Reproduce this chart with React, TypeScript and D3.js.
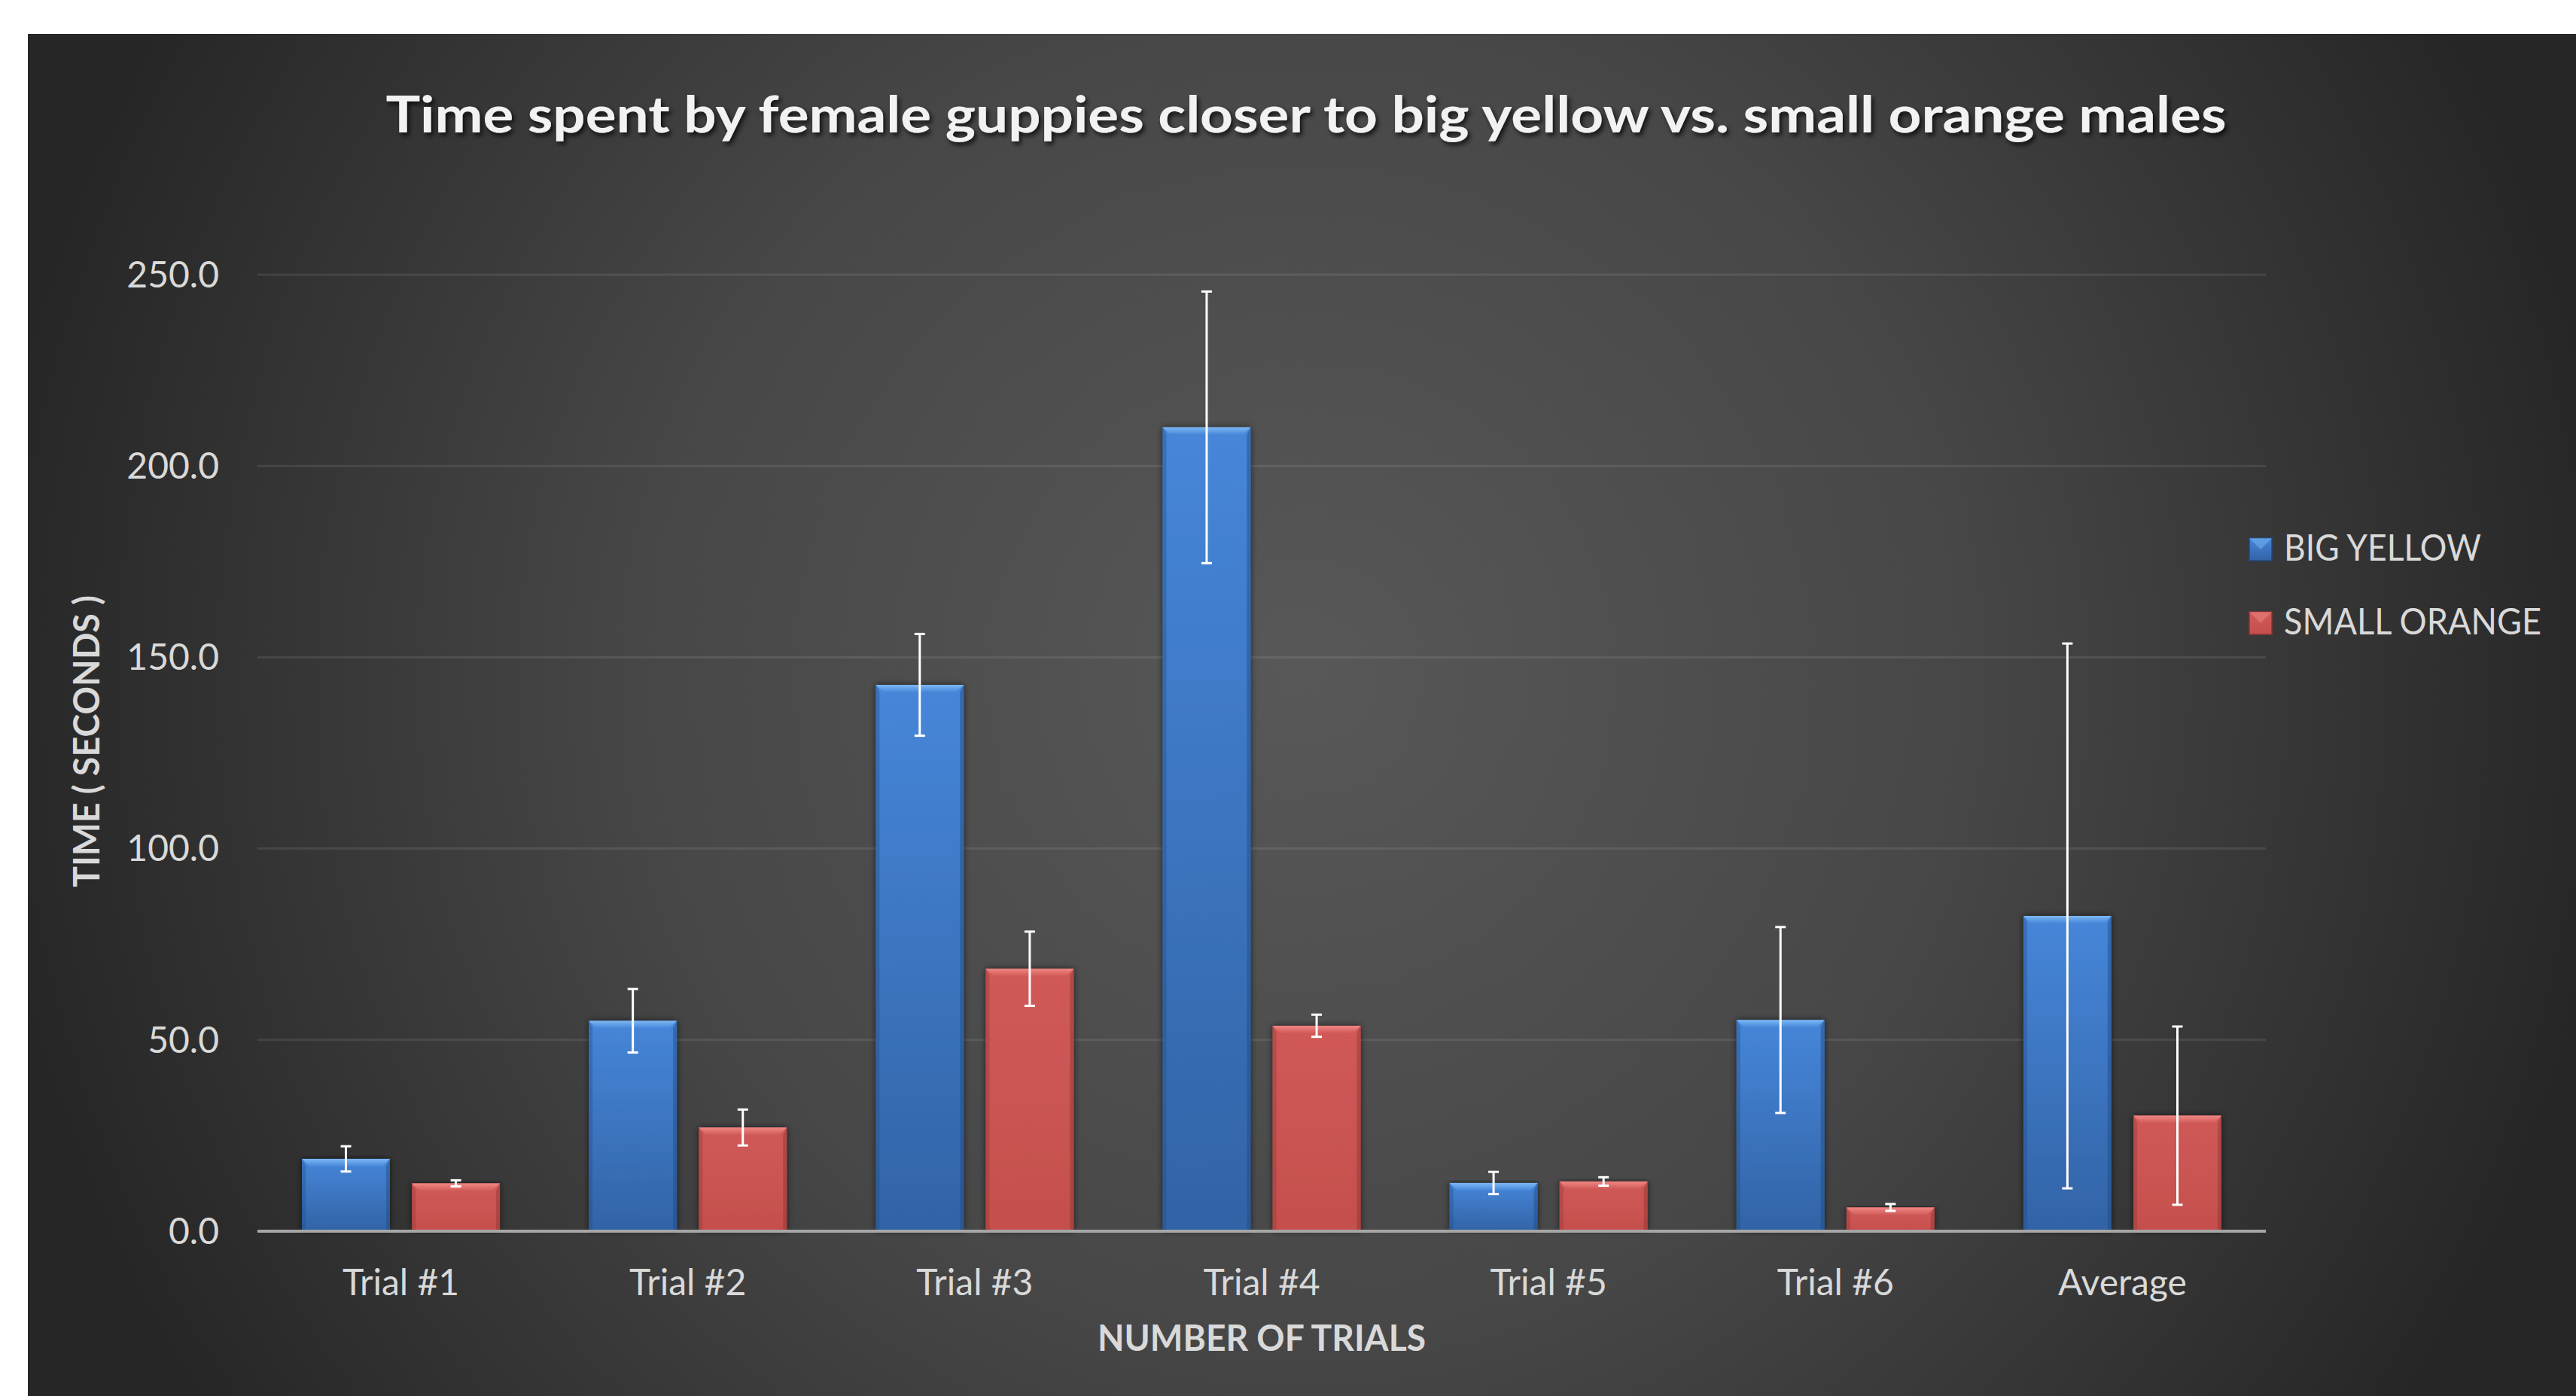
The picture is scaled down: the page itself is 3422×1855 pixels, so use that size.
import React from 'react';
import * as d3 from 'd3';

const categories = ['Trial #1', 'Trial #2', 'Trial #3', 'Trial #4', 'Trial #5', 'Trial #6', 'Average'];
const seriesNames = ['BIG YELLOW', 'SMALL ORANGE'];
const bigYellow = [18.9, 55.0, 142.8, 210.1, 12.6, 55.2, 82.4];
const bigYellowErr = [3.3, 8.3, 13.3, 35.5, 2.9, 24.3, 71.2];
const smallOrange = [12.5, 27.1, 68.6, 53.7, 13.0, 6.2, 30.2];
const smallOrangeErr = [0.8, 4.7, 9.7, 2.9, 1.1, 0.9, 23.3];
const yTicks = [0, 50, 100, 150, 200, 250];

const W = 3422;
const H = 1855;
const PLOT = { left: 342, right: 3010, top: 365, bottom: 1636 };

const seriesStyle = [
  { id: 'blue', top: '#4686d9', bottom: '#3263a6', bevel: '#7cb8f4', edge: '#1f4a80' },
  { id: 'red', top: '#d05a58', bottom: '#c44f4d', bevel: '#f08784', edge: '#8f3332' },
];

export default function App() {
  const x0 = d3.scaleBand<string>().domain(categories).range([PLOT.left, PLOT.right]).paddingInner(0).paddingOuter(0);
  const bw = x0.bandwidth();
  const x1 = d3.scaleBand<string>().domain(seriesNames).range([0.155 * bw, 0.845 * bw]).paddingInner(0.2);
  const y = d3.scaleLinear().domain([0, 250]).range([PLOT.bottom, PLOT.top]);
  const values = [bigYellow, smallOrange];
  const errs = [bigYellowErr, smallOrangeErr];
  const barW = x1.bandwidth();
  const b = 10;

  const bars: React.ReactNode[] = [];
  const errBars: React.ReactNode[] = [];
  seriesNames.forEach((s, si) => {
    const st = seriesStyle[si];
    categories.forEach((c, ci) => {
      const v = values[si][ci];
      const bx = (x0(c) as number) + (x1(s) as number);
      const by = y(v);
      const bh = y(0) - by;
      bars.push(
        <g key={`${s}-${c}`} filter="url(#barShadow)">
          <rect x={bx} y={by} width={barW} height={bh} fill={`url(#grad-${st.id})`} />
          <polygon
            points={`${bx},${by} ${bx + barW},${by} ${bx + barW - b},${by + b} ${bx + b},${by + b}`}
            fill={`url(#bevel-${st.id})`}
          />
          <polygon
            points={`${bx},${by} ${bx + b * 0.5},${by + b} ${bx + b * 0.5},${by + bh} ${bx},${by + bh}`}
            fill={st.edge}
            opacity={0.35}
          />
          <polygon
            points={`${bx + barW},${by} ${bx + barW - b * 0.5},${by + b} ${bx + barW - b * 0.5},${by + bh} ${bx + barW},${by + bh}`}
            fill={st.edge}
            opacity={0.45}
          />
        </g>
      );
      const e = errs[si][ci];
      const cx = bx + barW / 2;
      const yt = y(v + e);
      const yb = y(v - e);
      errBars.push(
        <g key={`e-${s}-${c}`} stroke="#ffffff" strokeWidth={3}>
          <line x1={cx} x2={cx} y1={yt} y2={yb} />
          <line x1={cx - 7} x2={cx + 7} y1={yt} y2={yt} />
          <line x1={cx - 7} x2={cx + 7} y1={yb} y2={yb} />
        </g>
      );
    });
  });

  return (
    <svg
      width={W}
      height={H}
      style={{ position: 'absolute', left: 0, top: 0, display: 'block' }}
      fontFamily="Lato, 'Open Sans', sans-serif"
    >
      <defs>
        <radialGradient id="bg" gradientUnits="userSpaceOnUse" cx={1730} cy={900} r={1760}>
          <stop offset="0" stopColor="#585858" />
          <stop offset="0.5" stopColor="#474747" />
          <stop offset="1" stopColor="#262626" />
        </radialGradient>
        {seriesStyle.map((st) => (
          <linearGradient key={st.id} id={`grad-${st.id}`} x1="0" y1="0" x2="0" y2="1">
            <stop offset="0" stopColor={st.top} />
            <stop offset="1" stopColor={st.bottom} />
          </linearGradient>
        ))}
        {seriesStyle.map((st) => (
          <linearGradient key={`bv-${st.id}`} id={`bevel-${st.id}`} x1="0" y1="0" x2="0" y2="1">
            <stop offset="0" stopColor={st.bevel} />
            <stop offset="1" stopColor={st.top} />
          </linearGradient>
        ))}
        <filter id="barShadow" x="-20%" y="-5%" width="140%" height="110%">
          <feDropShadow dx="0" dy="0" stdDeviation="4" floodColor="#000" floodOpacity="0.6" />
        </filter>
        <filter id="titleShadow" x="-5%" y="-30%" width="110%" height="160%">
          <feDropShadow dx="3" dy="4" stdDeviation="3" floodColor="#000" floodOpacity="0.75" />
        </filter>
      </defs>

      <rect x={0} y={0} width={W} height={H} fill="#ffffff" />
      <rect x={37} y={45} width={W - 37} height={H - 45} fill="url(#bg)" />

      <text
        x={1735}
        y={176}
        textAnchor="middle"
        fontSize={67}
        fontWeight={700}
        fill="#f2f2f2"
        filter="url(#titleShadow)"
        textLength={2445}
        lengthAdjust="spacingAndGlyphs"
      >
        Time spent by female guppies closer to big yellow vs. small orange males
      </text>

      {yTicks.map((t) => (
        <g key={t}>
          {t > 0 && (
            <line x1={PLOT.left} x2={PLOT.right} y1={y(t)} y2={y(t)} stroke="#ffffff" strokeOpacity={0.09} strokeWidth={3} />
          )}
          <text x={291} y={y(t)} dy="0.35em" textAnchor="end" fontSize={48} fill="#d9d9d9">
            {d3.format('.1f')(t)}
          </text>
        </g>
      ))}

      {bars}
      <line x1={PLOT.left} x2={PLOT.right} y1={PLOT.bottom} y2={PLOT.bottom} stroke="#a6a6a6" strokeWidth={4} />
      {errBars}

      {categories.map((c) => (
        <text key={c} x={(x0(c) as number) + bw / 2} y={1721} textAnchor="middle" fontSize={48} fill="#d9d9d9">
          {c}
        </text>
      ))}

      <text
        x={(PLOT.left + PLOT.right) / 2}
        y={1795}
        textAnchor="middle"
        fontSize={48}
        fontWeight={700}
        fill="#d9d9d9"
        textLength={436}
        lengthAdjust="spacingAndGlyphs"
      >
        NUMBER OF TRIALS
      </text>

      <text
        transform="translate(132,985) rotate(-90)"
        textAnchor="middle"
        fontSize={48}
        fontWeight={700}
        fill="#d9d9d9"
        textLength={388}
        lengthAdjust="spacingAndGlyphs"
      >
        TIME ( SECONDS )
      </text>

      {seriesNames.map((s, i) => {
        const st = seriesStyle[i];
        const ly = 730 + i * 98;
        return (
          <g key={s}>
            <rect x={2988} y={ly - 15} width={30} height={30} fill={`url(#grad-${st.id})`} stroke={st.edge} strokeWidth={1.5} />
            <polygon points={`${2988},${ly - 15} ${3018},${ly - 15} ${3003},${ly}`} fill={st.bevel} opacity={0.5} />
            <text x={3034} y={ly + 15} fontSize={48} fill="#d9d9d9" textLength={i === 0 ? 262 : 342} lengthAdjust="spacingAndGlyphs">
              {s}
            </text>
          </g>
        );
      })}
    </svg>
  );
}
